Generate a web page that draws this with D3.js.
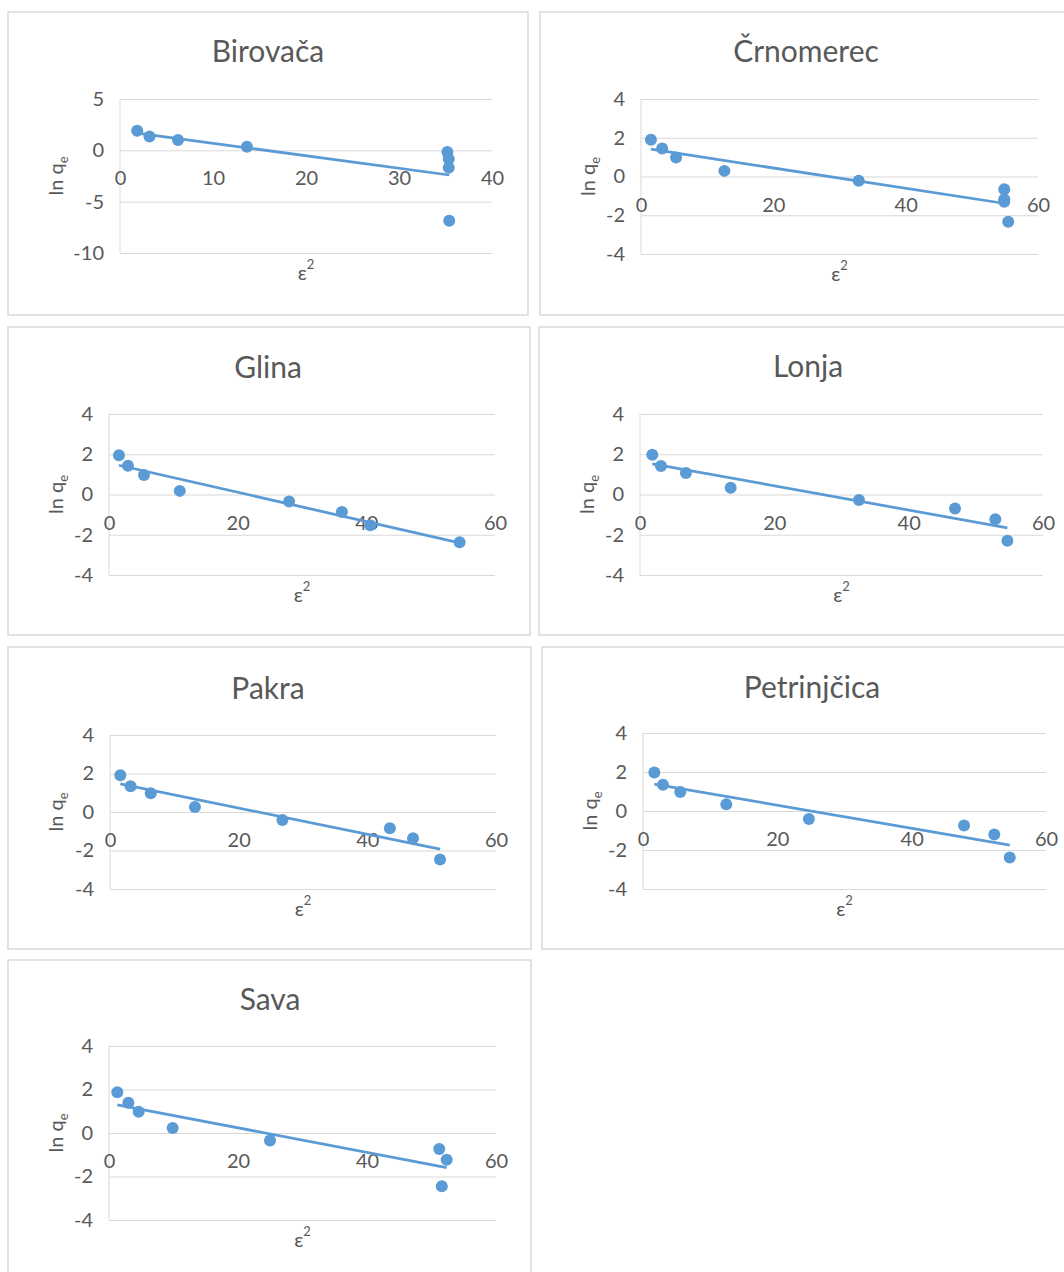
<!DOCTYPE html>
<html>
<head>
<meta charset="utf-8">
<script src="https://cdn.jsdelivr.net/npm/d3@7"></script>
<style>
  body { margin: 0; background: #fff; }
  svg text { font-family: Lato, "Open Sans", sans-serif; fill: #595959; }
</style>
</head>
<body>
<svg id="chart" width="1064" height="1272"></svg>
<script>
// site names, in panel order
var sites = ['Birovača', 'Črnomerec', 'Glina', 'Lonja', 'Pakra', 'Petrinjčica', 'Sava'];

// ε² (x) and ln qe (y)
var birovacaX = [1.85, 3.17, 6.24, 13.65, 35.2, 35.35, 35.35, 35.4];
var birovacaY = [1.9, 1.35, 1.0, 0.35, -0.16, -0.84, -1.7, -6.87];
var crnomerecX = [1.5, 3.2, 5.3, 12.6, 32.9, 54.9, 54.9, 54.9, 55.5];
var crnomerecY = [1.9, 1.45, 0.98, 0.29, -0.22, -0.66, -1.17, -1.3, -2.33];
var glinaX = [1.55, 2.95, 5.44, 11.0, 28.0, 36.2, 40.6, 54.5];
var glinaY = [1.95, 1.43, 0.97, 0.18, -0.35, -0.87, -1.53, -2.37];
var lonjaX = [1.83, 3.12, 6.84, 13.5, 32.6, 46.9, 52.9, 54.7];
var lonjaY = [1.97, 1.42, 1.07, 0.33, -0.27, -0.7, -1.23, -2.3];
var pakraX = [1.6, 3.2, 6.33, 13.2, 26.8, 43.5, 47.1, 51.3];
var pakraY = [1.91, 1.34, 0.98, 0.26, -0.41, -0.84, -1.36, -2.47];
var petrinjcicaX = [1.69, 2.97, 5.55, 12.4, 24.7, 47.8, 52.3, 54.6];
var petrinjcicaY = [1.98, 1.35, 0.97, 0.34, -0.41, -0.74, -1.2, -2.38];
var savaX = [1.29, 3.0, 4.6, 9.87, 24.96, 51.2, 52.35, 51.6];
var savaY = [1.87, 1.39, 0.98, 0.23, -0.35, -0.74, -1.23, -2.45];

// tick labels
var xTicksBirovaca = [0, 10, 20, 30, 40];
var yTicksBirovaca = [-10, -5, 0, 5];
var xTicks = [0, 20, 40, 60];
var yTicks = [-4, -2, 0, 2, 4];

var seriesX = [birovacaX, crnomerecX, glinaX, lonjaX, pakraX, petrinjcicaX, savaX];
var seriesY = [birovacaY, crnomerecY, glinaY, lonjaY, pakraY, petrinjcicaY, savaY];

// where each panel sits on the page
var layout = [
  {box: [8, 12, 520, 303],   plot: [120, 99, 492, 253],   title: [268, 50]},
  {box: [540, 12, 540, 303], plot: [641, 99, 1038, 254],  title: [806, 50]},
  {box: [8, 327, 522, 308],  plot: [109, 414, 495, 575],  title: [268, 366]},
  {box: [539, 327, 540, 308],plot: [640, 414, 1043, 575], title: [808, 365]},
  {box: [8, 647, 523, 302],  plot: [110, 735, 496, 889],  title: [268, 687]},
  {box: [542, 647, 540, 302],plot: [643, 733, 1046, 889], title: [812, 686]},
  {box: [8, 960, 523, 320],  plot: [109, 1046, 496, 1220],title: [270, 998]}
];

var blue = '#5b9bd5';
var grid = '#d9d9d9';
var svg = d3.select('#chart');
var plain = function (d) { return String(d); }; // keep the ascii hyphen like the original

function fit(xs, ys) {
  var mx = d3.mean(xs), my = d3.mean(ys);
  var sxy = d3.sum(xs, function (v, i) { return (v - mx) * (ys[i] - my); });
  var sxx = d3.sum(xs, function (v) { return (v - mx) * (v - mx); });
  var b = sxy / sxx;
  return {slope: b, icept: my - b * mx};
}

sites.forEach(function (name, k) {
  var L = layout[k];
  var xs = seriesX[k], ys = seriesY[k];
  var xt = k === 0 ? xTicksBirovaca : xTicks;
  var yt = k === 0 ? yTicksBirovaca : yTicks;
  var p = {x0: L.plot[0], y0: L.plot[1], x1: L.plot[2], y1: L.plot[3]};

  var g = svg.append('g');

  g.append('rect')
    .attr('x', L.box[0]).attr('y', L.box[1])
    .attr('width', L.box[2]).attr('height', L.box[3])
    .attr('fill', '#fff').attr('stroke', grid).attr('stroke-width', 1.5);

  g.append('text')
    .attr('x', L.title[0]).attr('y', L.title[1])
    .attr('text-anchor', 'middle').attr('dominant-baseline', 'central')
    .style('font-size', '30px')
    .text(name);

  var xScale = d3.scaleLinear().domain(d3.extent(xt)).range([p.x0, p.x1]);
  var yScale = d3.scaleLinear().domain(d3.extent(yt)).range([p.y1, p.y0]);

  // horizontal gridlines + y labels
  var ya = g.append('g')
    .attr('transform', 'translate(' + p.x0 + ',0)')
    .call(d3.axisLeft(yScale).tickValues(yt).tickFormat(plain)
      .tickSize(-(p.x1 - p.x0)).tickPadding(16));
  ya.select('.domain').remove();
  ya.selectAll('line').attr('stroke', grid);
  ya.selectAll('text').style('font-size', '20px').attr('fill', '#595959').attr('font-family', null);

  // vertical axis line
  g.append('line')
    .attr('x1', xScale(0)).attr('x2', xScale(0))
    .attr('y1', p.y0).attr('y2', p.y1)
    .attr('stroke', grid);

  // x labels sit under the zero line
  var xa = g.append('g')
    .attr('transform', 'translate(0,' + yScale(0) + ')')
    .call(d3.axisBottom(xScale).tickValues(xt).tickFormat(plain).tickSize(0).tickPadding(0));
  xa.select('.domain').remove();
  xa.selectAll('text')
    .attr('y', 27).attr('dy', null)
    .attr('dominant-baseline', 'central')
    .style('font-size', '20px').attr('fill', '#595959').attr('font-family', null);

  // axis titles
  var my = (p.y0 + p.y1) / 2;
  var yt1 = g.append('text')
    .attr('transform', 'translate(' + (L.box[0] + 47) + ',' + my + ') rotate(-90)')
    .attr('text-anchor', 'middle').attr('dominant-baseline', 'central')
    .style('font-size', '20px');
  yt1.append('tspan').text('ln q');
  yt1.append('tspan').attr('baseline-shift', 'sub').style('font-size', '13px').text('e');

  var xt1 = g.append('text')
    .attr('x', (p.x0 + p.x1) / 2).attr('y', p.y1 + 19)
    .attr('text-anchor', 'middle').attr('dominant-baseline', 'central')
    .style('font-size', '20px');
  xt1.append('tspan').text('ε');
  xt1.append('tspan').attr('baseline-shift', 'super').style('font-size', '13px').text('2');

  // points
  g.selectAll('circle')
    .data(xs)
    .enter().append('circle')
    .attr('cx', function (d) { return xScale(d); })
    .attr('cy', function (d, i) { return yScale(ys[i]); })
    .attr('r', 6)
    .attr('fill', blue);

  // linear trendline across the data range
  var f = fit(xs, ys);
  var lineFun = d3.line()
    .x(function (d) { return xScale(d); })
    .y(function (d) { return yScale(f.icept + f.slope * d); });
  g.append('path')
    .datum(d3.extent(xs))
    .attr('d', lineFun)
    .attr('fill', 'none')
    .attr('stroke', blue)
    .attr('stroke-width', 2.75);
});
</script>
</body>
</html>
